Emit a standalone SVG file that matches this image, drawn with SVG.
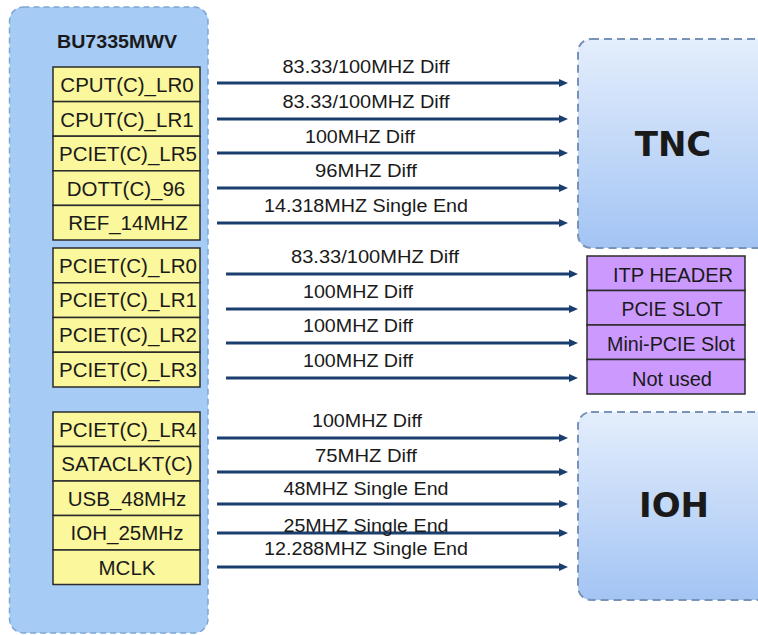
<svg xmlns="http://www.w3.org/2000/svg" width="758" height="635" viewBox="0 0 758 635">
<defs>
<linearGradient id="gBlue" x1="0" y1="0" x2="0" y2="1">
<stop offset="0" stop-color="#e4eefc"/>
<stop offset="1" stop-color="#a3c4f4"/>
</linearGradient>
<marker id="arr" markerUnits="userSpaceOnUse" markerWidth="10" markerHeight="9" refX="5" refY="4.5" orient="auto">
<path d="M0,0.5 L9,4.5 L0,8.5 z" fill="#1a3f6e"/>
</marker>
</defs>
<style>
.chip{fill:#a6cbf4;stroke:#7ea6d4;stroke-width:1.5;stroke-dasharray:6 4}
.blk{fill:url(#gBlue);stroke:#7893b5;stroke-width:2;stroke-dasharray:8 5}
.yel{fill:#fbf79c;stroke:#2b2b2b;stroke-width:1.5}
.pur{fill:#cc99ff;stroke:#2b2b2b;stroke-width:1.5}
.yt{font-family:"Liberation Sans",Arial,sans-serif;font-size:20.5px;fill:#1a1a1a;text-anchor:middle}
.pt{font-family:"Liberation Sans",Arial,sans-serif;font-size:21px;fill:#1a1a1a;text-anchor:middle}
.lt{font-family:"Liberation Sans",Arial,sans-serif;font-size:18px;fill:#1a1a1a;text-anchor:middle}
.big{font-family:"DejaVu Sans",Verdana,sans-serif;font-size:34px;font-weight:bold;fill:#1a1a1a;text-anchor:middle}
.ttl{font-family:"Liberation Sans",Arial,sans-serif;font-size:18px;font-weight:bold;fill:#1a1a1a;text-anchor:middle}
.ln{stroke:#1a3f6e;stroke-width:3;fill:none;marker-end:url(#arr)}
</style>
<rect width="758" height="635" fill="#ffffff"/>

<g id="BU7335MWV">
<rect class="chip" x="9.5" y="7" width="198.5" height="626" rx="14"/>
<text class="ttl" x="117" y="48" textLength="120" lengthAdjust="spacingAndGlyphs">BU7335MWV</text>
</g>

<g id="group1">
<rect class="yel" x="53" y="67" width="147" height="34.6"/>
<rect class="yel" x="53" y="101.6" width="147" height="34.6"/>
<rect class="yel" x="53" y="136.2" width="147" height="34.6"/>
<rect class="yel" x="53" y="170.8" width="147" height="34.6"/>
<rect class="yel" x="53" y="205.4" width="147" height="34.6"/>
<text class="yt" x="127" y="92">CPUT(C)_LR0</text>
<text class="yt" x="127" y="126.5">CPUT(C)_LR1</text>
<text class="yt" x="128" y="161">PCIET(C)_LR5</text>
<text class="yt" x="126" y="195.5">DOTT(C)_96</text>
<text class="yt" x="128" y="230">REF_14MHZ</text>
</g>

<g id="group2">
<rect class="yel" x="53" y="248" width="147" height="34.75"/>
<rect class="yel" x="53" y="282.75" width="147" height="34.75"/>
<rect class="yel" x="53" y="317.5" width="147" height="34.75"/>
<rect class="yel" x="53" y="352.25" width="147" height="34.75"/>
<text class="yt" x="128" y="272.5">PCIET(C)_LR0</text>
<text class="yt" x="128" y="307.3">PCIET(C)_LR1</text>
<text class="yt" x="128" y="342">PCIET(C)_LR2</text>
<text class="yt" x="128" y="376.8">PCIET(C)_LR3</text>
</g>

<g id="group3">
<rect class="yel" x="53" y="412" width="147" height="34.5"/>
<rect class="yel" x="53" y="446.5" width="147" height="34.5"/>
<rect class="yel" x="53" y="481" width="147" height="34.5"/>
<rect class="yel" x="53" y="515.5" width="147" height="34.5"/>
<rect class="yel" x="53" y="550" width="147" height="34.5"/>
<text class="yt" x="128" y="436.5">PCIET(C)_LR4</text>
<text class="yt" x="127" y="471">SATACLKT(C)</text>
<text class="yt" x="127" y="505.5">USB_48MHz</text>
<text class="yt" x="127" y="540">IOH_25MHz</text>
<text class="yt" x="127" y="574.5">MCLK</text>
</g>

<g id="TNC">
<rect class="blk" x="578" y="39" width="200" height="209" rx="13"/>
<text class="big" x="673" y="156">TNC</text>
</g>

<g id="targets">
<rect class="pur" x="587" y="256" width="158" height="34.5"/>
<rect class="pur" x="587" y="290.5" width="158" height="34.5"/>
<rect class="pur" x="587" y="325" width="158" height="34.5"/>
<rect class="pur" x="587" y="359.5" width="158" height="34.5"/>
<text class="pt" x="673" y="282" textLength="120" lengthAdjust="spacingAndGlyphs">ITP HEADER</text>
<text class="pt" x="672" y="316" textLength="101" lengthAdjust="spacingAndGlyphs">PCIE SLOT</text>
<text class="pt" x="671" y="351" textLength="128" lengthAdjust="spacingAndGlyphs">Mini-PCIE Slot</text>
<text class="pt" x="672" y="386" textLength="80" lengthAdjust="spacingAndGlyphs">Not used</text>
</g>

<g id="IOH">
<rect class="blk" x="578" y="412" width="200" height="188" rx="13"/>
<text class="big" x="674" y="517">IOH</text>
</g>

<g id="connectors">
<line class="ln" x1="217" y1="83" x2="564" y2="83"/>
<line class="ln" x1="217" y1="119" x2="564" y2="119"/>
<line class="ln" x1="217" y1="153" x2="564" y2="153"/>
<line class="ln" x1="217" y1="188" x2="564" y2="188"/>
<line class="ln" x1="217" y1="223" x2="564" y2="223"/>
<line class="ln" x1="226" y1="274" x2="574" y2="274"/>
<line class="ln" x1="226" y1="309" x2="574" y2="309"/>
<line class="ln" x1="226" y1="343" x2="574" y2="343"/>
<line class="ln" x1="226" y1="378" x2="574" y2="378"/>
<line class="ln" x1="217" y1="438" x2="564" y2="438"/>
<line class="ln" x1="217" y1="472" x2="564" y2="472"/>
<line class="ln" x1="217" y1="504" x2="564" y2="504"/>
<line class="ln" x1="217" y1="533" x2="564" y2="533"/>
<line class="ln" x1="217" y1="567" x2="564" y2="567"/>
<text class="lt" x="366" y="73" textLength="167" lengthAdjust="spacingAndGlyphs">83.33/100MHZ Diff</text>
<text class="lt" x="366" y="108" textLength="167" lengthAdjust="spacingAndGlyphs">83.33/100MHZ Diff</text>
<text class="lt" x="360" y="143" textLength="110" lengthAdjust="spacingAndGlyphs">100MHZ Diff</text>
<text class="lt" x="366" y="177" textLength="102" lengthAdjust="spacingAndGlyphs">96MHZ Diff</text>
<text class="lt" x="366" y="212" textLength="204" lengthAdjust="spacingAndGlyphs">14.318MHZ Single End</text>
<text class="lt" x="375" y="263" textLength="168" lengthAdjust="spacingAndGlyphs">83.33/100MHZ Diff</text>
<text class="lt" x="358" y="298" textLength="110" lengthAdjust="spacingAndGlyphs">100MHZ Diff</text>
<text class="lt" x="358" y="332" textLength="110" lengthAdjust="spacingAndGlyphs">100MHZ Diff</text>
<text class="lt" x="358" y="367" textLength="110" lengthAdjust="spacingAndGlyphs">100MHZ Diff</text>
<text class="lt" x="367" y="427" textLength="110" lengthAdjust="spacingAndGlyphs">100MHZ Diff</text>
<text class="lt" x="366" y="462" textLength="102" lengthAdjust="spacingAndGlyphs">75MHZ Diff</text>
<text class="lt" x="366" y="495" textLength="165" lengthAdjust="spacingAndGlyphs">48MHZ Single End</text>
<text class="lt" x="366" y="532" textLength="165" lengthAdjust="spacingAndGlyphs">25MHZ Single End</text>
<text class="lt" x="366" y="555" textLength="204" lengthAdjust="spacingAndGlyphs">12.288MHZ Single End</text>
</g>
</svg>
